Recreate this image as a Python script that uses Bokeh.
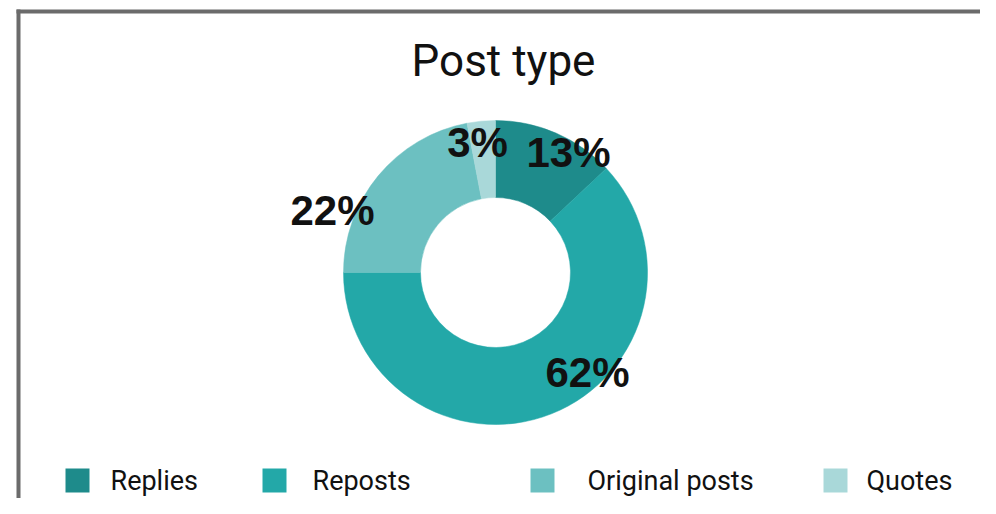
import math
from bokeh.plotting import figure
from bokeh.models import Range1d, ColumnDataSource
from bokeh.core.properties import value
from bokeh.embed import file_html
from bokeh.resources import INLINE

# ---- data ----
categories = ["Replies", "Reposts", "Original posts", "Quotes"]
shares = [13, 62, 22, 3]
colors = ["#1e8b8b", "#23a8a8", "#6cc0c1", "#a9d8d9"]
title_text = "Post type"

# ---- layout (picture pixels) ----
W, H = 980, 498
def X(px):
    return px
def Y(py):
    return H - py

cx, cy = 495, 272
r_out, r_in = 152, 75
label_pos = [(568, 152), (587, 372), (332, 210), (477, 142)]
legend_sq_x = [77, 274, 542, 835]
legend_txt_x = [110, 312, 587, 866]
legend_y = 480

p = figure(width=W, height=H, x_range=Range1d(0, W), y_range=Range1d(0, H),
           output_backend="svg", toolbar_location=None,
           x_axis_location=None, y_axis_location=None, min_border=0)
p.outline_line_color = None
p.grid.visible = False
p.background_fill_color = "white"
p.border_fill_color = "white"

# frame border (top and left)
p.segment(x0=[X(16), X(18)], y0=[Y(11), Y(9)], x1=[W + 10, X(18)], y1=[Y(11), -10],
          line_color="#6b6b6b", line_width=4)

# donut
total = sum(shares)
starts, ends = [], []
cum = 0.0
for s in shares:
    starts.append(math.pi / 2 - 2 * math.pi * cum / total)
    cum += s
    ends.append(math.pi / 2 - 2 * math.pi * cum / total)

src = ColumnDataSource(dict(start=starts, end=ends, color=colors))
p.annular_wedge(x=X(cx), y=Y(cy), inner_radius=r_in, outer_radius=r_out,
                start_angle="start", end_angle="end", direction="clock",
                fill_color="color", line_color="color", line_width=0.5, source=src)

# percent labels
lbl = ColumnDataSource(dict(x=[X(a) for a, b in label_pos], y=[Y(b) for a, b in label_pos],
                            t=["%d%%" % s for s in shares]))
p.text(x="x", y="y", text="t", source=lbl, text_font=value("Liberation Sans"),
       text_font_style="bold", text_font_size="42px", text_align="center",
       text_baseline="middle", text_color="#111111")

# title
p.text(x=[X(503)], y=[Y(60)], text=[title_text], text_font=value("Roboto"),
       text_font_size="44px", text_align="center", text_baseline="middle",
       text_color="#111111")

# legend
p.rect(x=[X(v) for v in legend_sq_x], y=[Y(legend_y)] * 4, width=24, height=24,
       fill_color=colors, line_color=None)
p.text(x=[X(v) for v in legend_txt_x], y=[Y(legend_y)] * 4, text=categories,
       text_font=value("Roboto"), text_font_size="27px", text_align="left",
       text_baseline="middle", text_color="#111111")

open("out.html", "w").write(file_html(p, INLINE))
